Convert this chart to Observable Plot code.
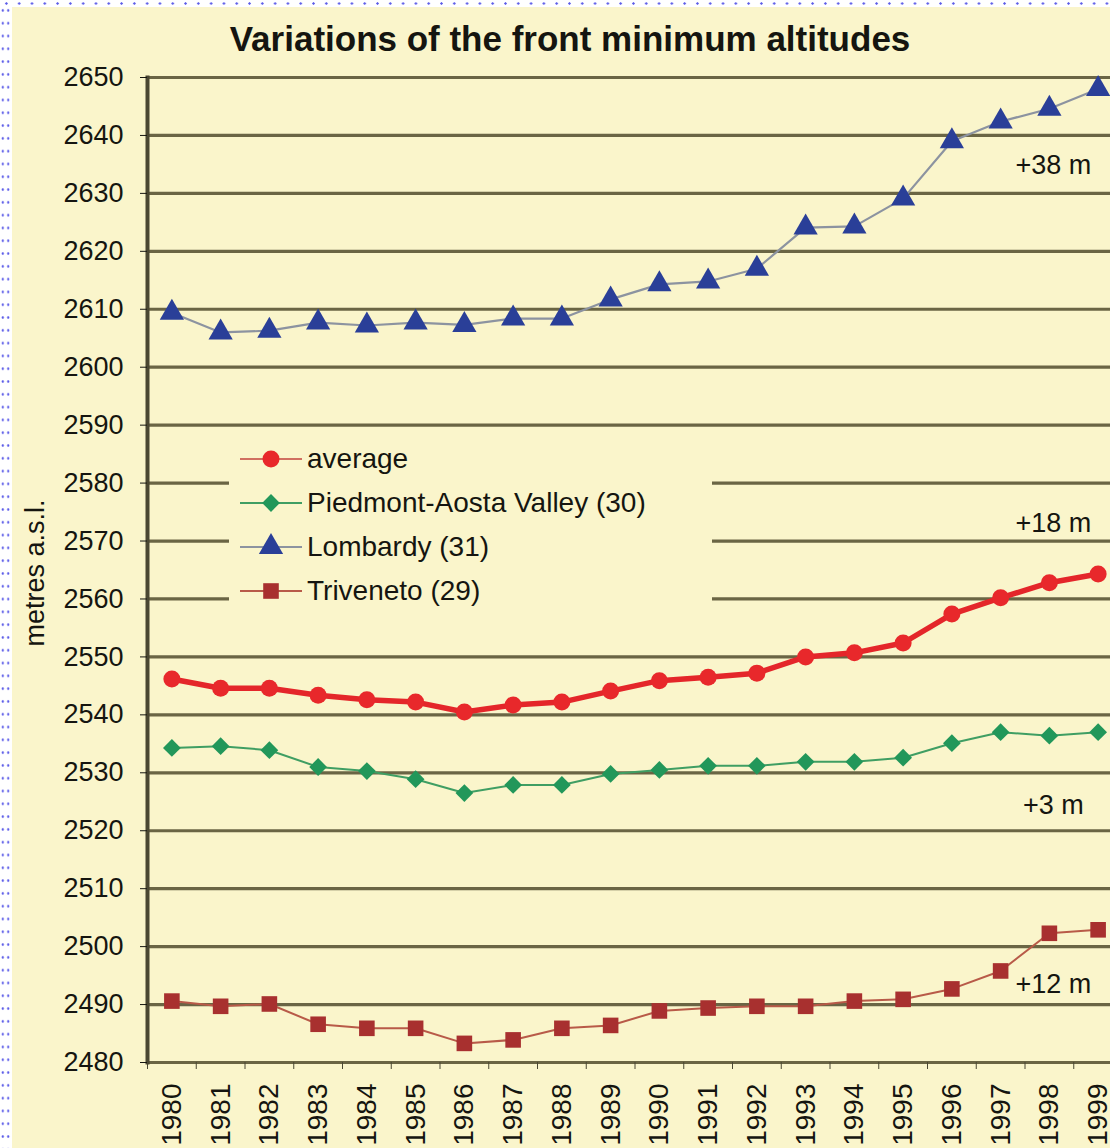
<!DOCTYPE html>
<html><head><meta charset="utf-8">
<script src="https://cdn.jsdelivr.net/npm/d3@7"></script>
<script src="https://cdn.jsdelivr.net/npm/@observablehq/plot@0.6"></script>
<style>
html,body{margin:0;padding:0;width:1110px;height:1148px;overflow:hidden;background:#fff;font-family:"Liberation Sans",Arial,sans-serif;}
#bg{position:absolute;left:12px;top:7px;width:1110px;height:1150px;background:#faf5cb;}
#dotsTop{position:absolute;left:0;top:0;width:1110px;height:7px;background-image:radial-gradient(circle,#5b5be8 0.9px,transparent 1.5px);background-size:12.8px 7px;}
#dotsLeft{position:absolute;left:0;top:4px;width:11px;height:1148px;background-image:radial-gradient(circle,#5b5be8 0.9px,transparent 1.5px);background-size:5.5px 12.8px;}
#chart{position:absolute;left:0;top:0;width:1130px;}
#chart svg{max-width:none !important;}
#title{position:absolute;left:570px;top:19px;transform:translateX(-50%);white-space:nowrap;font-weight:bold;font-size:35px;color:#151510;}
#ylabel{position:absolute;left:35px;top:573px;transform:translate(-50%,-50%) rotate(-90deg);white-space:nowrap;font-size:27px;color:#151510;}
#legend{position:absolute;left:229px;top:437px;width:483px;height:174px;background:#faf5cb;}
.row{position:absolute;left:11px;height:40px;display:flex;align-items:center;font-size:28px;color:#151510;white-space:nowrap;}
.row svg{margin-right:5px;}
</style></head>
<body>
<div id="bg"></div>
<div id="dotsTop"></div>
<div id="dotsLeft"></div>
<div id="chart"></div>
<div id="title">Variations of the front minimum altitudes</div>
<div id="ylabel">metres a.s.l.</div>
<div id="legend"></div>
<script>
const years = [1980,1981,1982,1983,1984,1985,1986,1987,1988,1989,1990,1991,1992,1993,1994,1995,1996,1997,1998,1999];
const average   = [2546.2,2544.6,2544.6,2543.4,2542.6,2542.2,2540.5,2541.7,2542.2,2544.1,2545.9,2546.5,2547.2,2550.0,2550.7,2552.4,2557.4,2560.2,2562.8,2564.3];
const piedmont  = [2534.3,2534.6,2533.9,2531.0,2530.3,2528.9,2526.5,2527.9,2527.9,2529.8,2530.5,2531.2,2531.2,2531.9,2531.9,2532.6,2535.1,2537.0,2536.4,2537.0];
const lombardy  = [2609.4,2606.0,2606.3,2607.7,2607.2,2607.7,2607.3,2608.4,2608.4,2611.7,2614.3,2614.8,2617.0,2624.1,2624.3,2629.1,2639.0,2642.4,2644.6,2648.0];
const triveneto = [2490.6,2489.7,2490.1,2486.6,2485.9,2485.9,2483.3,2483.9,2485.9,2486.4,2488.9,2489.4,2489.7,2489.7,2490.6,2490.9,2492.7,2495.8,2502.3,2502.9];
const yTicks = [2480,2490,2500,2510,2520,2530,2540,2550,2560,2570,2580,2590,2600,2610,2620,2630,2640,2650];
const seriesNames = ["average","Piedmont-Aosta Valley (30)","Lombardy (31)","Triveneto (29)"];
const annotationLabels = ["+38 m","+18 m","+3 m","+12 m"];
const annotationYears = [1998,1998,1998,1998];
const annotationValues = [2634.8,2573.1,2524.4,2493.5];

const rows = (vals) => years.map((yr,i)=>({year:yr, value:vals[i]}));
const dAvg = rows(average), dPie = rows(piedmont), dLom = rows(lombardy), dTri = rows(triveneto);
const annotations = annotationLabels.map((t,i)=>({text:t, year:annotationYears[i], value:annotationValues[i]}));

const styles = {
  average:   {line:"#e4262a", lineW:5.5, fill:"#e8282b", symbol:"circle", r:8.5},
  piedmont:  {line:"#3f9e63", lineW:2, fill:"#22975a", symbol:"diamond2", r:8},
  lombardy:  {line:"#8c93a0", lineW:2.2, fill:"#2a3f98", symbol:"triangle", r:9},
  triveneto: {line:"#b85a48", lineW:2, fill:"#a8302f", symbol:"square", r:8.8}
};
const series = [["lombardy",dLom],["piedmont",dPie],["triveneto",dTri],["average",dAvg]];
const seriesMarks = series.flatMap(([k,d]) => [
  Plot.line(d, {x:"year", y:"value", stroke:styles[k].line, strokeWidth:styles[k].lineW}),
  Plot.dot(d, {x:"year", y:"value", fill:styles[k].fill, symbol:styles[k].symbol, r:styles[k].r, stroke:"none"})
]);

const chart = Plot.plot({
  width:1130, height:1148,
  marginLeft:147, marginTop:77, marginBottom:86, marginRight:8,
  style:{background:"transparent", fontFamily:"Liberation Sans, Arial, sans-serif", overflow:"visible", color:"#151510", maxWidth:"none"},
  x:{type:"point", domain:years, padding:0.5, round:false},
  y:{domain:[2480,2650]},
  marks:[
    Plot.gridY(yTicks, {stroke:"#6a6544", strokeOpacity:1, strokeWidth:3.2}),
    Plot.frame({anchor:"left", stroke:"#4a4732", strokeWidth:4}),
    Plot.axisY(yTicks, {tickSize:7, tickPadding:17, fontSize:27, label:null, tickFormat:d=>String(d)}),
    Plot.axisX({tickSize:7, dx:-24.375, tickFormat:()=>"", label:null, stroke:"#4a4732"}),
    Plot.axisX({tickSize:0, tickPadding:21, tickRotate:-90, fontSize:28, label:null, tickFormat:d=>String(d)}),
    ...seriesMarks,
    Plot.text(annotations, {x:"year", y:"value", text:"text", fontSize:27, fill:"#151510", dx:4})
  ]
});
document.getElementById("chart").appendChild(chart);

// legend
const legend = document.getElementById("legend");
const keys = ["average","piedmont","lombardy","triveneto"];
const rowTops = [2, 46, 90, 134];
const symMap = {circle:d3.symbolCircle, diamond2:d3.symbolDiamond2, triangle:d3.symbolTriangle, square:d3.symbolSquare};
keys.forEach((k,i)=>{
  const s = styles[k];
  const row = document.createElement("div");
  row.className = "row";
  row.style.top = rowTops[i] + "px";
  const path = d3.symbol(symMap[s.symbol], Math.PI*s.r*s.r)();
  const svgNS = "http://www.w3.org/2000/svg";
  const svg = document.createElementNS(svgNS,"svg");
  svg.setAttribute("width",62); svg.setAttribute("height",40);
  const ln = document.createElementNS(svgNS,"line");
  ln.setAttribute("x1",0); ln.setAttribute("x2",62); ln.setAttribute("y1",20); ln.setAttribute("y2",20);
  ln.setAttribute("stroke", k==="average" ? "#d07060" : s.line); ln.setAttribute("stroke-width", 2);
  svg.appendChild(ln);
  const p = document.createElementNS(svgNS,"path");
  p.setAttribute("d", path); p.setAttribute("transform","translate(31,20)"); p.setAttribute("fill", s.fill);
  svg.appendChild(p);
  row.appendChild(svg);
  const span = document.createElement("span");
  span.textContent = seriesNames[i];
  row.appendChild(span);
  legend.appendChild(row);
});
</script>
</body></html>
